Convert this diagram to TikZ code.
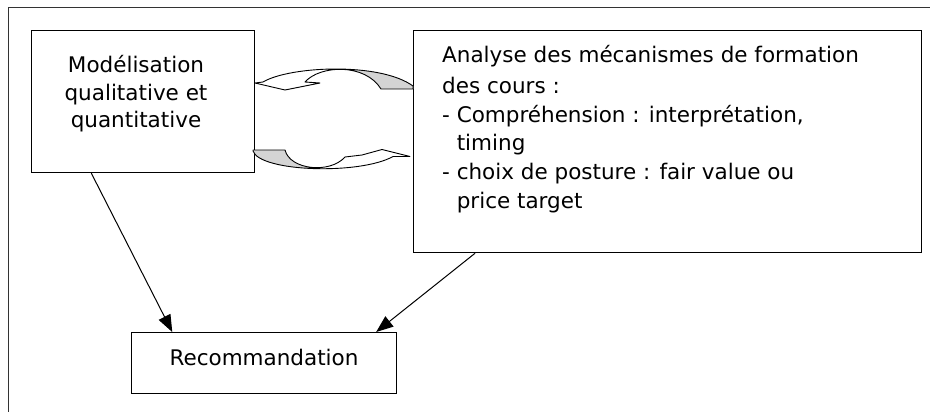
\documentclass[tikz,border=0pt]{standalone}
\usepackage{fontspec}
\setmainfont{DejaVu Sans}
\usetikzlibrary{arrows.meta,calc}
\begin{document}
\begin{tikzpicture}[x=1pt,y=-1pt,
  box/.style={draw=black, line width=1.2pt, rectangle, inner sep=0pt, anchor=north west},
  txt/.style={font=\fontsize{21.5}{29}\selectfont, inner sep=0pt},
  link/.style={line width=1pt, -{Triangle[length=17pt,width=13pt]}},
  ribline/.style={draw=black, line width=0.9pt, line join=round},
  shade/.style={fill=black!17}]
\useasboundingbox (0,0) rectangle (930,412);
\clip (0,0) rectangle (930,412);
\fill[white] (0,0) rectangle (930,412);
% outer frame (open at right and bottom)
\draw[line width=1pt, draw=black!80] (8,430) -- (8,8) -- (950,8);

% boxes
\node[box, minimum width=223pt, minimum height=142pt] (mod) at (31,30) {};
\node[box, minimum width=508pt, minimum height=222pt] (ana) at (413,30) {};
\node[box, minimum width=265pt, minimum height=61pt] (rec) at (131,332) {};

% texts
\node[txt, anchor=base] (m1) at (136,73) {Modélisation};
\node[txt, anchor=base] (m2) at (136,100.5) {qualitative et};
\node[txt, anchor=base] (m3) at (136,128) {quantitative};

\node[txt, anchor=base west] (a1) at (442,63) {Analyse des mécanismes de formation};
\node[txt, anchor=base west] (a2) at (442,93) {des cours :};
\node[txt, anchor=base west] (a3) at (442,122) {- Compréhension : interprétation,};
\node[txt, anchor=base west] (a4) at (442,150) {\phantom{- }timing};
\node[txt, anchor=base west] (a5) at (442,179) {- choix de posture : fair value ou};
\node[txt, anchor=base west] (a6) at (442,208) {\phantom{- }price target};

\node[txt, anchor=base] (r1) at (264,365) {Recommandation};

% connectors
\draw[link] ($(mod.south west)!0.269!(mod.south east)$) -- ($(rec.north west)!0.155!(rec.north east)$);
\draw[link] ($(ana.south west)!0.122!(ana.south east)$) -- ($(rec.north west)!0.921!(rec.north east)$);

% curved ribbon arrows
\def\topribbon{(255,83) -- (285,90) -- (320,83) -- (305,82)
  .. controls (320,65) and (365,63) .. (381,89) -- (413,89) -- (413,86)
  .. controls (380,62) and (290,66) .. (263,82) -- cycle}
\def\botribbon{(253,150) -- (285,150)
  .. controls (290,170) and (330,174) .. (345,157) -- (362,155) -- (382,149.5)
  -- (410,156.5) -- (393,156.5)
  .. controls (360,175) and (260,172) .. (253,151) -- cycle}
\fill[white] \topribbon;
\begin{scope}
  \clip (341,0) rectangle (420,100);
  \fill[shade] \topribbon;
\end{scope}
\draw[ribline] \topribbon;

\fill[white] \botribbon;
\begin{scope}
  \clip (240,140) rectangle (318,180);
  \fill[shade] \botribbon;
\end{scope}
\draw[ribline] \botribbon;
\end{tikzpicture}
\end{document}
